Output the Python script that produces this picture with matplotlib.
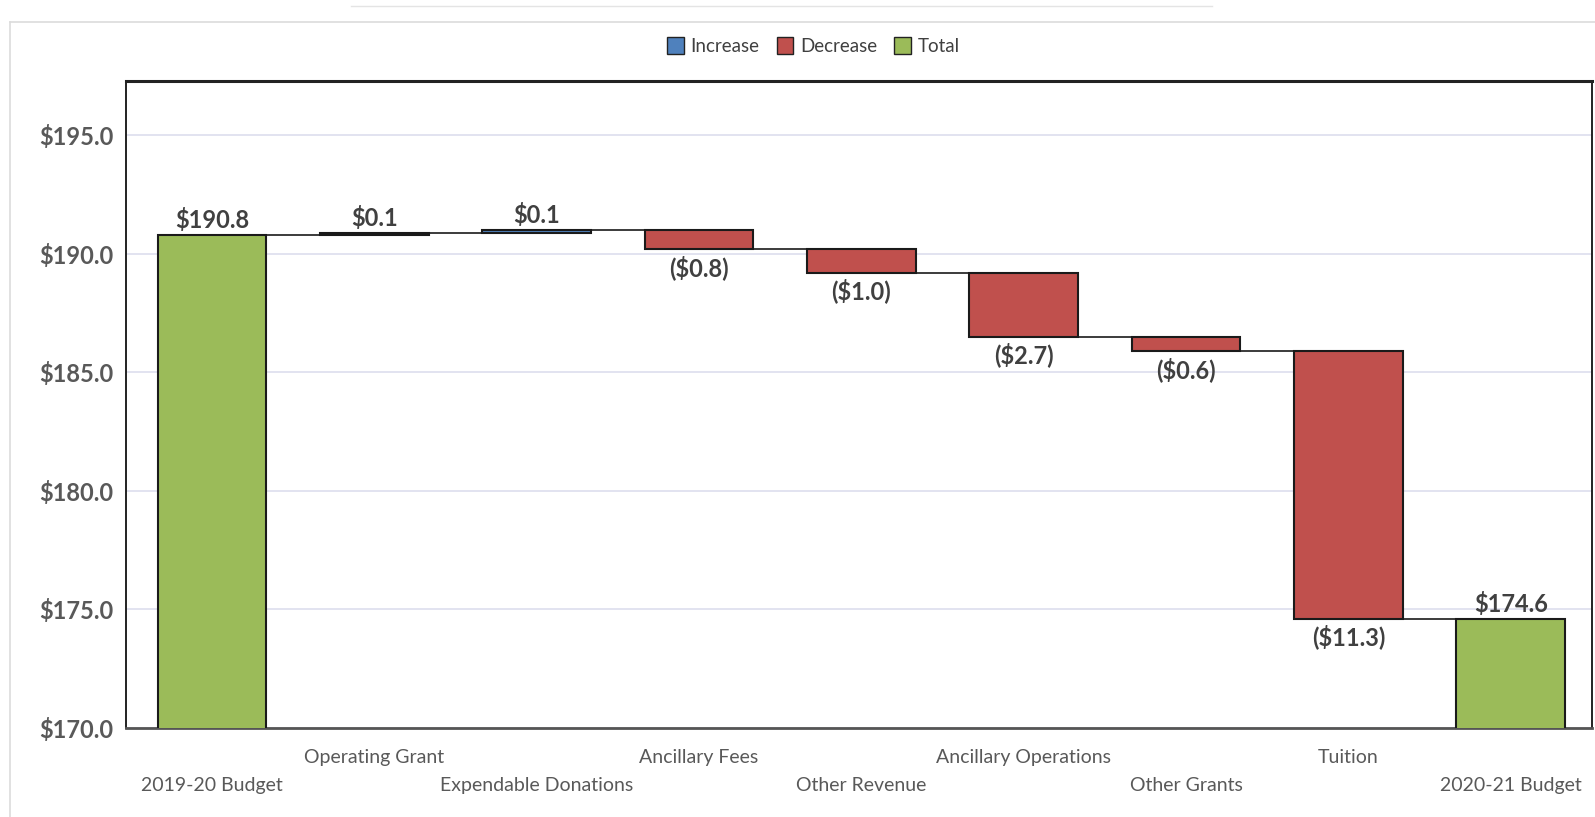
import matplotlib.pyplot as plt
from matplotlib.patches import Patch
from matplotlib.lines import Line2D

plt.rcParams['font.family'] = ['Lato', 'DejaVu Sans']

categories = ['2019-20 Budget', 'Operating Grant', 'Expendable Donations',
              'Ancillary Fees', 'Other Revenue', 'Ancillary Operations',
              'Other Grants', 'Tuition', '2020-21 Budget']
changes = [190.8, 0.1, 0.1, -0.8, -1.0, -2.7, -0.6, -11.3, 174.6]
is_total = [True, False, False, False, False, False, False, False, True]

c_inc = '#4f81bd'
c_dec = '#c0504d'
c_tot = '#9bbb59'
width = 0.67

fig = plt.figure(figsize=(15.95, 8.17), dpi=100)
ax = fig.add_axes([0.079, 0.109, 0.919, 0.792])

# faint outer frame of the chart area
fig.add_artist(Line2D([10/1595, 10/1595], [0, 1 - 22/817], color='#dcdcdc', lw=1.2,
                      transform=fig.transFigure))
fig.add_artist(Line2D([10/1595, 1], [1 - 22/817, 1 - 22/817], color='#dcdcdc', lw=1.2,
                      transform=fig.transFigure))
fig.add_artist(Line2D([0.22, 0.76], [1 - 6/817, 1 - 6/817], color='#e4e4e4', lw=1.0,
                      transform=fig.transFigure))

running = 0.0
levels = []
for i, (v, tot) in enumerate(zip(changes, is_total)):
    if tot:
        bottom, height, col = 0, v, c_tot
        running = v
    else:
        if v >= 0:
            bottom, height, col = running, v, c_inc
        else:
            bottom, height, col = running + v, -v, c_dec
        running = running + v
    ax.bar(i, height, bottom=bottom, width=width, color=col, edgecolor='#1a1a1a',
           linewidth=1.5, zorder=3)
    levels.append(running)

    if tot or v >= 0:
        lbl = '${:.1f}'.format(abs(v))
        ax.annotate(lbl, (i, bottom + height), xytext=(0, 2), textcoords='offset points',
                    ha='center', va='bottom', fontsize=17, fontweight='bold',
                    color='#404040', zorder=5)
    else:
        lbl = '(${:.1f})'.format(abs(v))
        ax.annotate(lbl, (i, bottom), xytext=(0, -4), textcoords='offset points',
                    ha='center', va='top', fontsize=17, fontweight='bold',
                    color='#404040', zorder=5)

# connectors between consecutive bars
for i in range(len(changes) - 1):
    ax.plot([i + width / 2, i + 1 - width / 2], [levels[i], levels[i]],
            color='#1a1a1a', lw=1.2, zorder=2)

ax.set_ylim(170, 197.3)
ax.set_xlim(-0.53, 8.5)
ax.set_yticks([170, 175, 180, 185, 190, 195])
ax.set_yticklabels(['${:.1f}'.format(t) for t in [170, 175, 180, 185, 190, 195]])
ax.yaxis.grid(True, color='#dfe1ef', lw=1.3, zorder=0)
ax.set_axisbelow(True)
ax.tick_params(axis='y', length=0, pad=9, labelsize=17, labelcolor='#595959')
for t in ax.get_yticklabels():
    t.set_fontweight('bold')

ax.set_xticks(range(len(categories)))
ax.set_xticklabels(categories)
ax.tick_params(axis='x', length=0, labelsize=14, labelcolor='#595959')
for i, tk in enumerate(ax.xaxis.get_major_ticks()):
    tk.set_pad(15 if i % 2 == 1 else 35)

for side in ['left', 'top', 'right']:
    ax.spines[side].set_color('#222222')
    ax.spines[side].set_linewidth(1.4)
ax.spines['top'].set_linewidth(2.2)
ax.spines['bottom'].set_color('#555555')
ax.spines['bottom'].set_linewidth(2.0)

handles = [Patch(facecolor=c_inc, edgecolor='#222222', label='Increase'),
           Patch(facecolor=c_dec, edgecolor='#222222', label='Decrease'),
           Patch(facecolor=c_tot, edgecolor='#222222', label='Total')]
fig.legend(handles=handles, loc='center', bbox_to_anchor=(0.51, 1 - 46/817), ncol=3,
           frameon=False, fontsize=13.5, handlelength=0.9, handleheight=1.0,
           handletextpad=0.35, columnspacing=0.9, labelcolor='#404040')

fig.savefig('out.png', dpi=100)
